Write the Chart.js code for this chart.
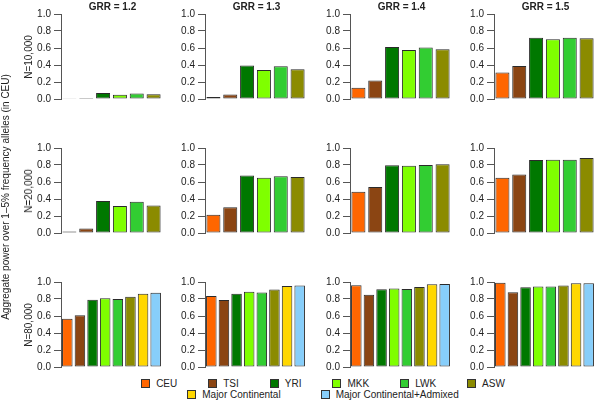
<!DOCTYPE html>
<html>
<head>
<meta charset="utf-8">
<script src="https://cdn.jsdelivr.net/npm/chart.js@4/dist/chart.umd.min.js"></script>
<style>
  html, body { margin: 0; padding: 0; background: #fff; }
  body { width: 598px; height: 402px; position: relative; overflow: hidden;
         font-family: "Liberation Sans", Arial, Helvetica, sans-serif; color: #222; }
  canvas { position: absolute; }
  .txt { position: absolute; white-space: nowrap; font-size: 10px; line-height: 12px; }
  .title { font-weight: bold; transform: translate(-50%, -50%); }
  .rot { transform: translate(-50%, -50%) rotate(-90deg); }
  .legend { position: absolute; left: 48px; width: 550px; display: flex; justify-content: center;
            font-size: 10px; line-height: 11px; }
  .legend .item { display: flex; align-items: center; }
  .legend .box { width: 7px; height: 7px; border: 1px solid #333; margin-right: 6px; }
</style>
</head>
<body>
<script>
'use strict';

var groups = ['CEU', 'TSI', 'YRI', 'MKK', 'LWK', 'ASW', 'Major Continental', 'Major Continental+Admixed'];
var groupColors = ['#FF6600', '#8B4513', '#007800', '#7FFF00', '#32CD32', '#8B8B00', '#FFD700', '#87CEFA'];
var grrLabels = ['GRR = 1.2', 'GRR = 1.3', 'GRR = 1.4', 'GRR = 1.5'];
var sampleLabels = ['N=10,000', 'N=20,000', 'N=80,000'];
var yTicks = [0, 0.2, 0.4, 0.6, 0.8, 1.0];

// N=10,000 (6 populations)
var n10k_grr12 = [0.01, 0.012, 0.07, 0.05, 0.065, 0.055];
var n10k_grr13 = [0.023, 0.054, 0.393, 0.342, 0.385, 0.35];
var n10k_grr14 = [0.132, 0.218, 0.611, 0.576, 0.607, 0.584];
var n10k_grr15 = [0.311, 0.389, 0.72, 0.704, 0.72, 0.716];

// N=20,000
var n20k_grr12 = [0.019, 0.054, 0.377, 0.319, 0.369, 0.323];
var n20k_grr13 = [0.215, 0.304, 0.677, 0.65, 0.669, 0.658];
var n20k_grr14 = [0.485, 0.542, 0.796, 0.792, 0.8, 0.808];
var n20k_grr15 = [0.65, 0.688, 0.858, 0.862, 0.862, 0.881];

// N=80,000 (6 populations + 2 combined panels)
var n80k_grr12 = [0.569, 0.608, 0.792, 0.808, 0.8, 0.827, 0.862, 0.873];
var n80k_grr13 = [0.835, 0.788, 0.862, 0.885, 0.877, 0.912, 0.954, 0.958];
var n80k_grr14 = [0.962, 0.85, 0.915, 0.923, 0.919, 0.942, 0.973, 0.977];
var n80k_grr15 = [0.992, 0.88, 0.938, 0.946, 0.946, 0.958, 0.985, 0.985];

var panels = [
  [n10k_grr12, n10k_grr13, n10k_grr14, n10k_grr15],
  [n20k_grr12, n20k_grr13, n20k_grr14, n20k_grr15],
  [n80k_grr12, n80k_grr13, n80k_grr14, n80k_grr15]
];

var fontFamily = '"Liberation Sans", Arial, Helvetica, sans-serif';
var axisX = [61, 205, 350, 494];   // left edge of each plot column
var rowTop = [13, 147, 281];       // pixel of y = 1.0 in each row
var plotW = 101, plotH = 87;
var axisW = 40, pad = 8;

function addText(cls, text, x, y) {
  var d = document.createElement('div');
  d.className = 'txt ' + cls;
  d.textContent = text;
  d.style.left = x + 'px';
  d.style.top = y + 'px';
  document.body.appendChild(d);
  return d;
}

function makePanel(values, left, top) {
  var canvas = document.createElement('canvas');
  var w = axisW + plotW + 4, h = plotH + pad * 2;
  canvas.width = w; canvas.height = h;
  canvas.style.left = (left - axisW) + 'px';
  canvas.style.top = (top - pad) + 'px';
  document.body.appendChild(canvas);

  var n = values.length;
  return new Chart(canvas.getContext('2d'), {
    type: 'bar',
    data: {
      labels: groups.slice(0, n),
      datasets: [{
        data: values,
        backgroundColor: groupColors.slice(0, n),
        borderColor: '#2a2a2a',
        borderWidth: 1,
        borderSkipped: false,
        barPercentage: 1 / 1.2,
        categoryPercentage: 1
      }]
    },
    options: {
      responsive: false,
      animation: false,
      devicePixelRatio: 1,
      layout: { padding: { left: 0, right: 4, top: pad, bottom: pad } },
      plugins: { legend: { display: false }, tooltip: { enabled: false }, title: { display: false } },
      scales: {
        x: { display: false, offset: true },
        y: {
          min: 0, max: 1,
          afterFit: function (scale) { scale.width = axisW; },
          afterBuildTicks: function (scale) {
            scale.ticks = yTicks.map(function (v) { return { value: v }; });
          },
          border: { display: true, color: '#555', width: 1 },
          grid: { drawOnChartArea: false, drawTicks: true, tickLength: 7, color: '#555', tickColor: '#555' },
          ticks: {
            padding: 3,
            color: '#222',
            font: { family: fontFamily, size: 10 },
            callback: function (v) { return Number(v).toFixed(1); }
          }
        }
      }
    }
  });
}

panels.forEach(function (row, r) {
  row.forEach(function (values, c) {
    makePanel(values, axisX[c], rowTop[r]);
  });
  addText('rot', sampleLabels[r], 29, rowTop[r] + plotH / 2);
});

grrLabels.forEach(function (label, c) {
  addText('title', label, axisX[c] + plotW / 2 + 1, 7);
});

addText('rot', 'Aggregate power over 1\u20135% frequency alleles (in CEU)', 6, 197);

// legend: populations on the first line, combined panels on the second
function legendRow(items, top, gap) {
  var row = document.createElement('div');
  row.className = 'legend';
  row.style.top = top + 'px';
  items.forEach(function (i, k) {
    var item = document.createElement('div');
    item.className = 'item';
    if (k < items.length - 1) item.style.marginRight = gap + 'px';
    var box = document.createElement('span');
    box.className = 'box';
    box.style.background = groupColors[i];
    var label = document.createElement('span');
    label.textContent = groups[i];
    item.appendChild(box);
    item.appendChild(label);
    row.appendChild(item);
  });
  document.body.appendChild(row);
}

legendRow([0, 1, 2, 3, 4, 5], 378, 31);
legendRow([6, 7], 389, 40);
</script>
</body>
</html>
